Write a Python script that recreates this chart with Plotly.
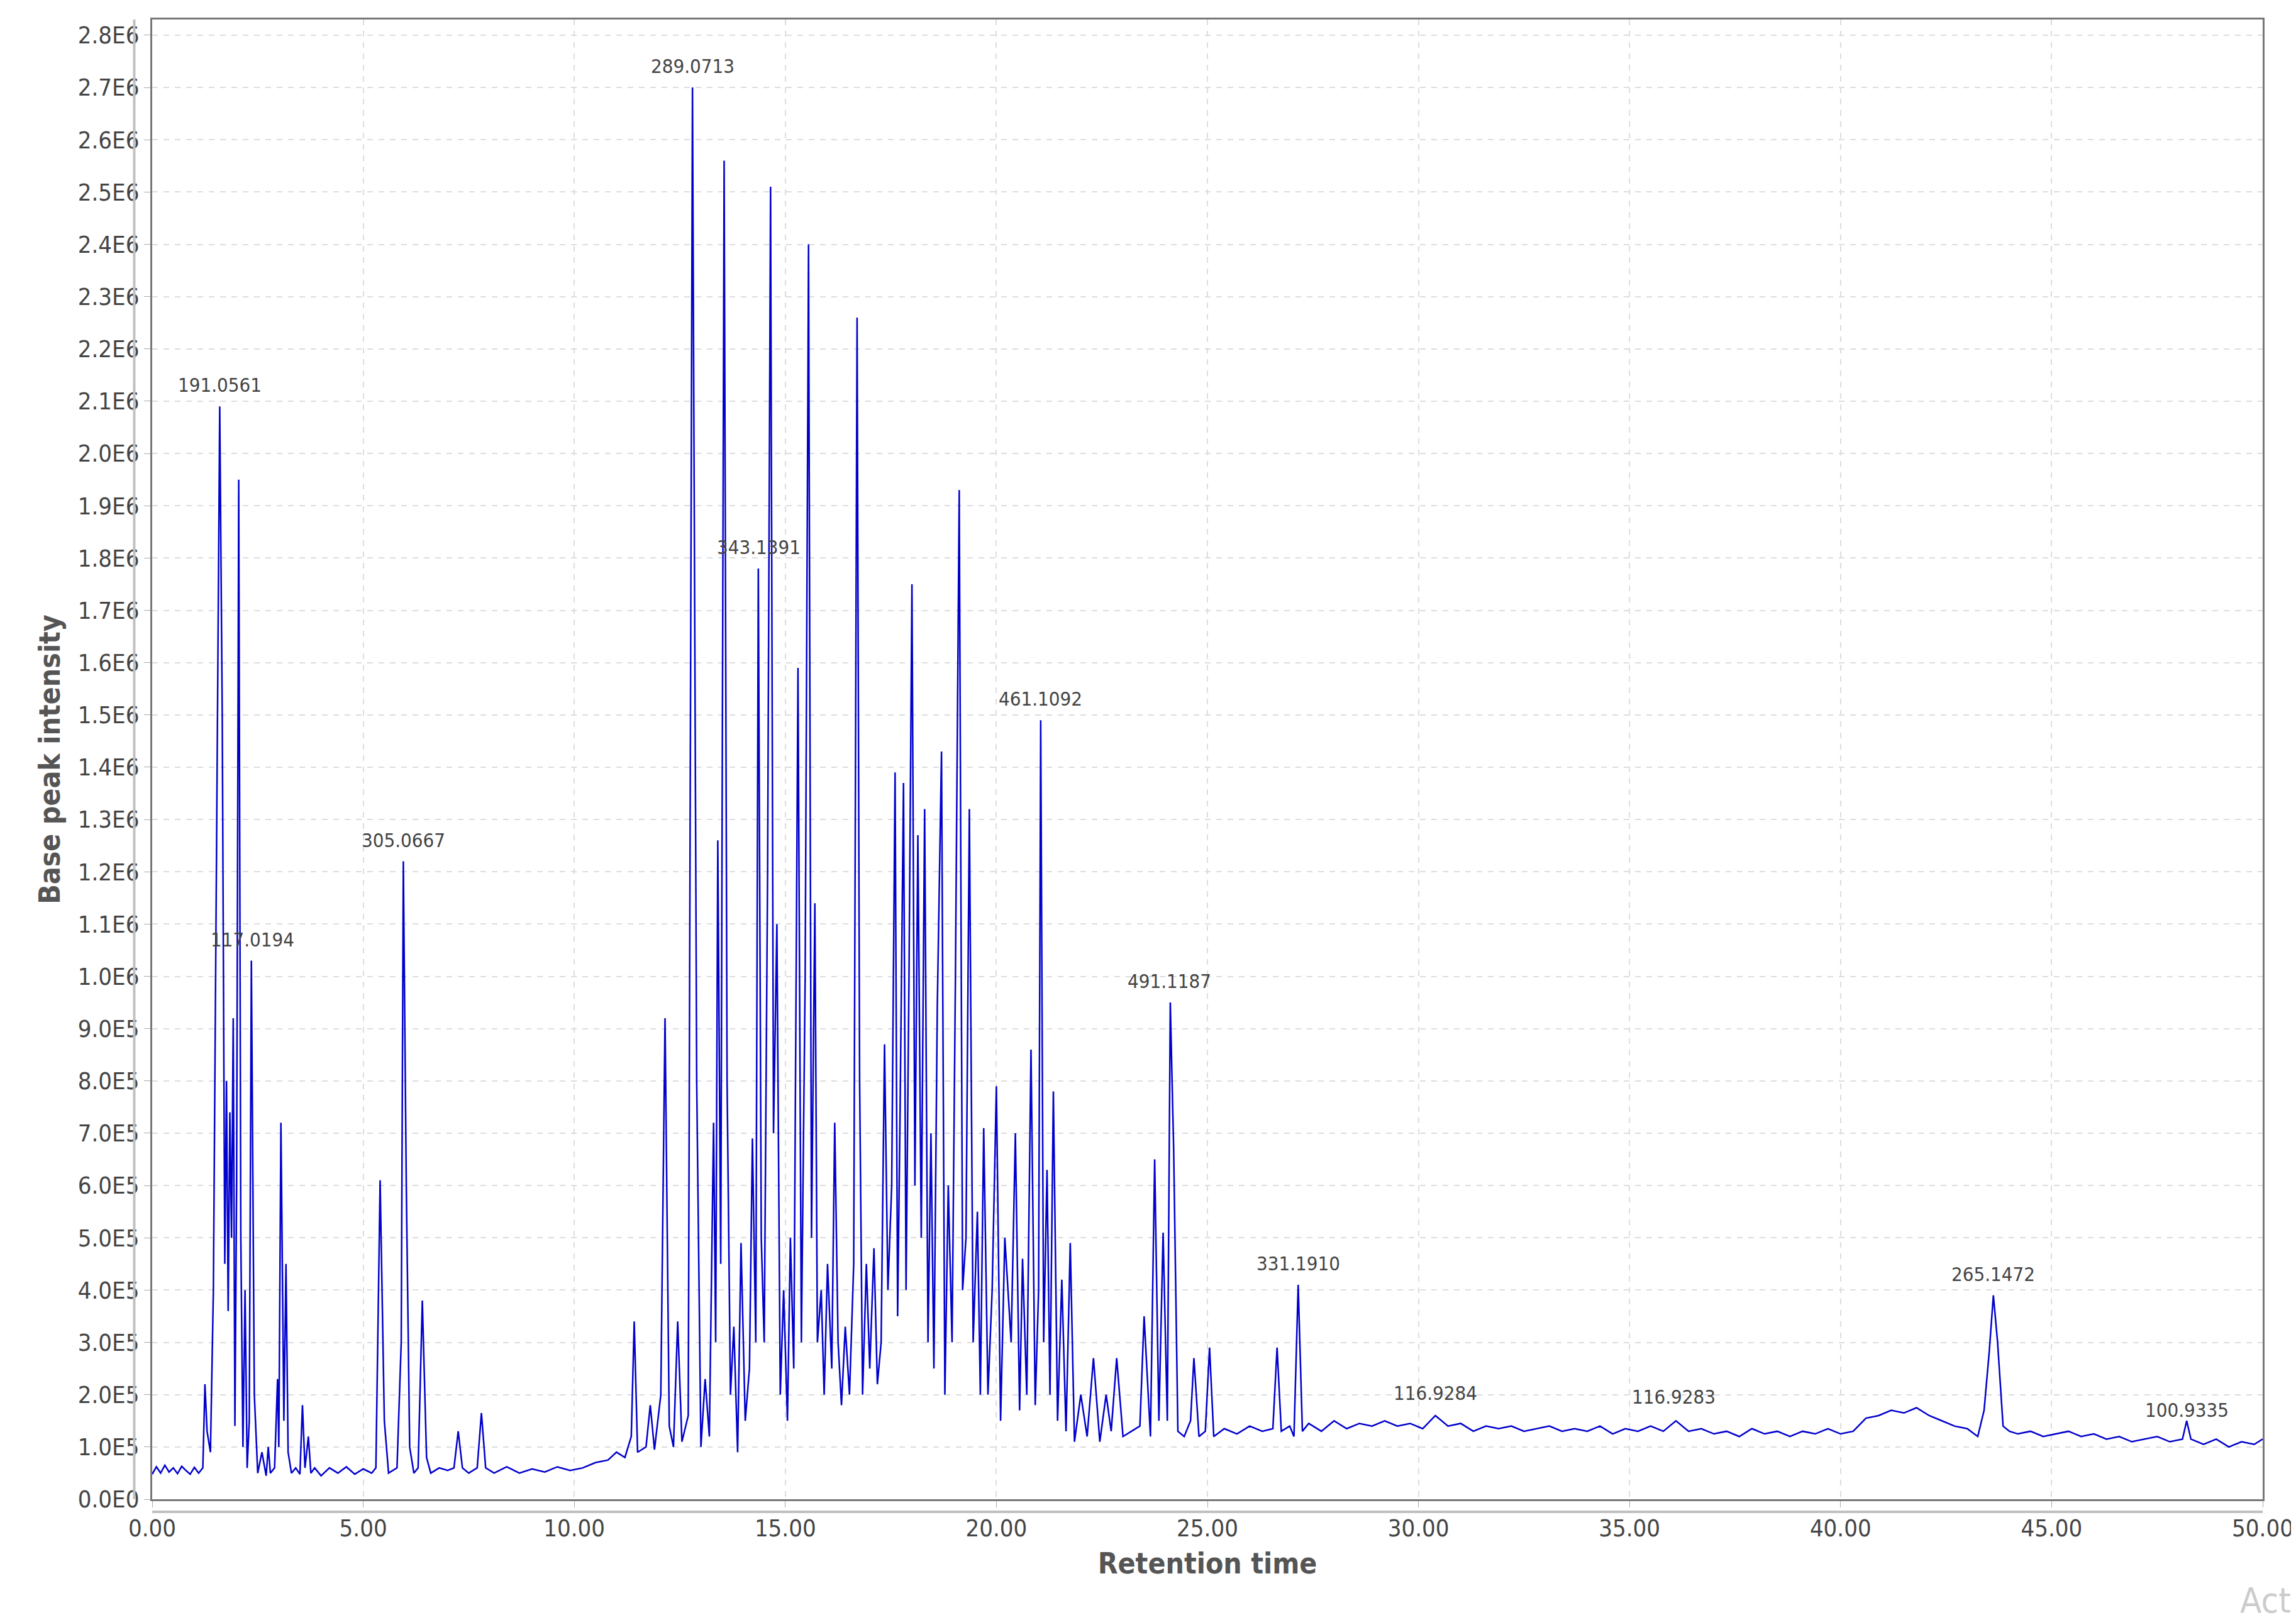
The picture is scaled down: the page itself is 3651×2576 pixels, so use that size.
import plotly.graph_objects as go

# Base peak chromatogram (retention time in min, intensity)
rt = [
    0.00, 0.10, 0.20, 0.30, 0.40, 0.50, 0.60, 0.70, 0.80, 0.90, 1.00, 1.10, 1.20, 1.25, 1.30, 1.38,
    1.45, 1.52, 1.60, 1.66, 1.72, 1.76, 1.80, 1.84, 1.88, 1.92, 1.96, 2.00, 2.05, 2.10, 2.15, 2.20,
    2.25, 2.30, 2.35, 2.42, 2.50, 2.60, 2.70, 2.75, 2.80, 2.90, 2.97, 3.00, 3.05, 3.12, 3.17, 3.22,
    3.30, 3.40, 3.50, 3.56, 3.62, 3.70, 3.76, 3.85, 4.00, 4.20, 4.40, 4.60, 4.80, 5.00, 5.20, 5.30,
    5.40, 5.50, 5.60, 5.80, 5.90, 5.95, 6.02, 6.10, 6.20, 6.30, 6.40, 6.50, 6.60, 6.80, 7.00, 7.15,
    7.25, 7.35, 7.50, 7.70, 7.80, 7.90, 8.10, 8.40, 8.70, 9.00, 9.30, 9.60, 9.90, 10.20, 10.50, 10.80,
    11.00, 11.20, 11.35, 11.42, 11.50, 11.70, 11.80, 11.90, 12.05, 12.15, 12.25, 12.35, 12.45, 12.55,
    12.70, 12.80, 12.90, 13.00, 13.10, 13.20, 13.30, 13.35, 13.40, 13.47, 13.55, 13.62, 13.70, 13.78,
    13.87, 13.95, 14.05, 14.15, 14.22, 14.30, 14.36, 14.43, 14.50, 14.58, 14.65, 14.72, 14.80, 14.88,
    14.96, 15.05, 15.12, 15.20, 15.30, 15.38, 15.47, 15.55, 15.62, 15.70, 15.76, 15.85, 15.92, 16.00,
    16.10, 16.17, 16.25, 16.33, 16.42, 16.52, 16.62, 16.70, 16.76, 16.83, 16.92, 17.00, 17.10, 17.18,
    17.27, 17.35, 17.43, 17.52, 17.60, 17.66, 17.72, 17.80, 17.86, 17.93, 18.00, 18.07, 18.14, 18.22,
    18.30, 18.38, 18.45, 18.52, 18.60, 18.70, 18.78, 18.86, 18.95, 19.03, 19.12, 19.20, 19.28, 19.36,
    19.45, 19.55, 19.62, 19.70, 19.80, 19.90, 20.00, 20.10, 20.20, 20.35, 20.45, 20.55, 20.62, 20.72,
    20.82, 20.92, 21.00, 21.05, 21.12, 21.20, 21.27, 21.35, 21.45, 21.55, 21.65, 21.75, 21.85, 22.00,
    22.15, 22.30, 22.45, 22.60, 22.72, 22.85, 23.00, 23.20, 23.40, 23.50, 23.65, 23.75, 23.85, 23.95,
    24.05, 24.12, 24.20, 24.30, 24.45, 24.60, 24.68, 24.80, 24.95, 25.05, 25.15, 25.40, 25.70, 26.00,
    26.30, 26.55, 26.65, 26.75, 26.95, 27.05, 27.15, 27.25, 27.40, 27.70, 28.00, 28.30, 28.60, 28.90,
    29.20, 29.50, 29.80, 30.10, 30.40, 30.70, 31.00, 31.30, 31.60, 31.90, 32.20, 32.50, 32.80, 33.10,
    33.40, 33.70, 34.00, 34.30, 34.60, 34.90, 35.20, 35.50, 35.80, 36.10, 36.40, 36.70, 37.00, 37.30,
    37.60, 37.90, 38.20, 38.50, 38.80, 39.10, 39.40, 39.70, 40.00, 40.30, 40.60, 40.90, 41.20, 41.50,
    41.80, 42.10, 42.40, 42.70, 43.00, 43.25, 43.40, 43.52, 43.62, 43.72, 43.85, 44.00, 44.20, 44.50,
    44.80, 45.10, 45.40, 45.70, 46.00, 46.30, 46.60, 46.90, 47.20, 47.50, 47.80, 48.10, 48.20, 48.30,
    48.60, 48.90, 49.20, 49.50, 49.80, 50.00,
]
intensity = [
    4.8e4, 6.2e4, 5.0e4, 6.5e4, 5.2e4, 6.0e4, 4.9e4, 6.3e4, 5.5e4, 4.8e4, 6.1e4, 5.0e4, 6.0e4, 2.2e5, 1.3e5, 9.0e4,
    4.0e5, 1.2e6, 2.09e6, 1.5e6, 4.5e5, 8.0e5, 3.6e5, 7.4e5, 5.0e5, 9.2e5, 1.4e5, 6.0e5, 1.95e6, 5.0e5, 1.0e5, 4.0e5,
    6.0e4, 1.5e5, 1.03e6, 2.0e5, 5.0e4, 9.0e4, 4.5e4, 1.0e5, 5.0e4, 6.0e4, 2.3e5, 1.0e5, 7.2e5, 1.5e5, 4.5e5, 9.0e4,
    5.0e4, 6.0e4, 4.8e4, 1.8e5, 6.0e4, 1.2e5, 5.0e4, 6.0e4, 4.5e4, 6.0e4, 5.0e4, 6.2e4, 4.8e4, 5.8e4, 5.0e4, 6.0e4,
    6.1e5, 1.5e5, 5.0e4, 6.0e4, 3.0e5, 1.22e6, 6.0e5, 1.0e5, 5.0e4, 6.0e4, 3.8e5, 8.0e4, 5.0e4, 6.0e4, 5.5e4, 6.0e4,
    1.3e5, 6.0e4, 5.0e4, 6.0e4, 1.65e5, 6.0e4, 5.0e4, 6.2e4, 5.0e4, 5.8e4, 5.2e4, 6.2e4, 5.5e4, 6.0e4, 7.0e4, 7.5e4,
    9.0e4, 8.0e4, 1.2e5, 3.4e5, 9.0e4, 1.0e5, 1.8e5, 9.5e4, 2.0e5, 9.2e5, 1.4e5, 1.0e5, 3.4e5, 1.1e5,
    1.6e5, 2.7e6, 8.0e5, 1.0e5, 2.3e5, 1.2e5, 7.2e5, 3.0e5, 1.26e6, 4.5e5, 2.56e6, 8.0e5, 2.0e5, 3.3e5,
    9.0e4, 4.9e5, 1.5e5, 2.5e5, 6.9e5, 3.0e5, 1.78e6, 5.0e5, 3.0e5, 1.2e6, 2.51e6, 7.0e5, 1.1e6, 2.0e5,
    4.0e5, 1.5e5, 5.0e5, 2.5e5, 1.59e6, 3.0e5, 1.0e6, 2.4e6, 5.0e5, 1.14e6, 3.0e5, 4.0e5, 2.0e5, 4.5e5,
    2.5e5, 7.2e5, 3.0e5, 1.8e5, 3.3e5, 2.0e5, 4.5e5, 2.26e6, 8.0e5, 2.0e5, 4.5e5, 2.5e5, 4.8e5, 2.2e5,
    3.0e5, 8.7e5, 4.0e5, 6.0e5, 1.39e6, 3.5e5, 7.5e5, 1.37e6, 4.0e5, 1.0e6, 1.75e6, 6.0e5, 1.27e6, 5.0e5,
    1.32e6, 3.0e5, 7.0e5, 2.5e5, 9.4e5, 1.43e6, 2.0e5, 6.0e5, 3.0e5, 1.0e6, 1.93e6, 4.0e5, 5.0e5, 1.32e6,
    3.0e5, 5.5e5, 2.0e5, 7.1e5, 2.0e5, 4.0e5, 7.9e5, 1.5e5, 5.0e5, 3.0e5, 7.0e5, 1.7e5, 4.6e5, 2.0e5,
    8.6e5, 1.8e5, 4.0e5, 1.49e6, 3.0e5, 6.3e5, 2.0e5, 7.8e5, 1.5e5, 4.2e5, 1.3e5, 4.9e5, 1.1e5, 2.0e5,
    1.2e5, 2.7e5, 1.1e5, 2.0e5, 1.3e5, 2.7e5, 1.2e5, 1.3e5, 1.4e5, 3.5e5, 1.2e5, 6.5e5, 1.5e5, 5.1e5,
    1.5e5, 9.5e5, 6.7e5, 1.3e5, 1.2e5, 1.5e5, 2.7e5, 1.2e5, 1.3e5, 2.9e5, 1.2e5, 1.35e5, 1.25e5, 1.4e5,
    1.3e5, 1.35e5, 2.9e5, 1.3e5, 1.4e5, 1.2e5, 4.1e5, 1.3e5, 1.45e5, 1.3e5, 1.5e5, 1.35e5, 1.45e5, 1.4e5,
    1.5e5, 1.4e5, 1.45e5, 1.35e5, 1.6e5, 1.4e5, 1.45e5, 1.3e5, 1.4e5, 1.35e5, 1.4e5, 1.3e5, 1.35e5, 1.4e5,
    1.3e5, 1.35e5, 1.3e5, 1.4e5, 1.25e5, 1.35e5, 1.3e5, 1.4e5, 1.3e5, 1.5e5, 1.3e5, 1.35e5, 1.25e5, 1.3e5,
    1.2e5, 1.35e5, 1.25e5, 1.3e5, 1.2e5, 1.3e5, 1.25e5, 1.35e5, 1.25e5, 1.3e5, 1.55e5, 1.6e5, 1.7e5, 1.65e5,
    1.75e5, 1.6e5, 1.5e5, 1.4e5, 1.35e5, 1.2e5, 1.7e5, 2.8e5, 3.9e5, 3.0e5, 1.4e5, 1.3e5, 1.25e5, 1.3e5,
    1.2e5, 1.25e5, 1.3e5, 1.2e5, 1.25e5, 1.15e5, 1.2e5, 1.1e5, 1.15e5, 1.2e5, 1.1e5, 1.15e5, 1.5e5, 1.15e5,
    1.05e5, 1.15e5, 1.0e5, 1.1e5, 1.05e5, 1.15e5,
]

# Peak labels (m/z)
label_rt = [1.60, 2.37, 5.95, 12.80, 14.37, 21.05, 24.10, 27.15, 30.40, 36.05, 43.62, 48.20]
label_int = [2.09e6, 1.03e6, 1.22e6, 2.70e6, 1.78e6, 1.49e6, 9.5e5, 4.1e5, 1.62e5, 1.55e5, 3.9e5, 1.3e5]
label_text = ["191.0561", "117.0194", "305.0667", "289.0713", "343.1391", "461.1092",
              "491.1187", "331.1910", "116.9284", "116.9283", "265.1472", "100.9335"]

y_ticks = [i * 1e5 for i in range(29)]
y_ticktext = ["0.0E0"] + [f"{v/1e5:.1f}E5" for v in y_ticks[1:10]] + [f"{v/1e6:.1f}E6" for v in y_ticks[10:]]
x_ticks = [0, 5, 10, 15, 20, 25, 30, 35, 40, 45, 50]

fig = go.Figure()
fig.add_trace(go.Scatter(x=rt, y=intensity, mode="lines",
                         line=dict(color="#0000CC", width=2.5), showlegend=False))

for x, y, t in zip(label_rt, label_int, label_text):
    fig.add_annotation(x=x, y=y, text=t, showarrow=False, yshift=34,
                       font=dict(size=31, color="#444444"))

fig.add_annotation(x=1.014, y=-0.068, xref="paper", yref="paper", text="Act", showarrow=False,
                   xanchor="right", yanchor="middle", font=dict(size=56, color="#cccccc"))

# offset grey axis lines like the original software
fig.add_shape(type="line", xref="paper", yref="paper", x0=-0.0085, x1=-0.0085, y0=0, y1=1,
              line=dict(color="#c0c0c0", width=4))
fig.add_shape(type="line", xref="paper", yref="paper", x0=0, x1=1, y0=-0.0085, y1=-0.0085,
              line=dict(color="#c0c0c0", width=4))

fig.update_layout(
    width=3651, height=2576,
    margin=dict(l=234, r=56, t=23, b=200),
    plot_bgcolor="white", paper_bgcolor="white",
    font=dict(family="DejaVu Sans Condensed, Liberation Sans, sans-serif", color="#444444"),
    xaxis=dict(range=[0, 50], tickvals=x_ticks, ticktext=[f"{v:.2f}" for v in x_ticks],
               showgrid=True, gridcolor="#dddddd", griddash="dash", gridwidth=2,
               showline=True, mirror=True, linecolor="#777777", linewidth=3,
               ticks="outside", ticklen=10, tickcolor="#aaaaaa", tickfont=dict(size=38),
               title=dict(text="<b>Retention time</b>", font=dict(size=46, color="#555555"), standoff=20),
               zeroline=False),
    yaxis=dict(range=[0, 2.83e6], tickvals=y_ticks, ticktext=y_ticktext,
               showgrid=True, gridcolor="#dddddd", griddash="dash", gridwidth=2,
               showline=True, mirror=True, linecolor="#777777", linewidth=3,
               ticks="outside", ticklen=10, tickcolor="#aaaaaa", tickfont=dict(size=38),
               title=dict(text="<b>Base peak intensity</b>", font=dict(size=46, color="#555555"), standoff=14),
               zeroline=False),
)

fig.write_html("out.html")
